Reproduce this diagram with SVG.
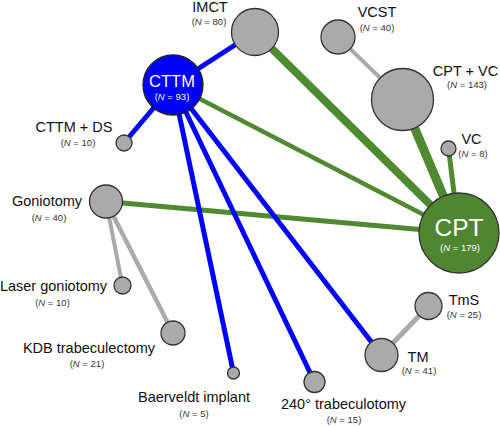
<svg xmlns="http://www.w3.org/2000/svg" width="500" height="427" viewBox="0 0 500 427">
<style>
.bg{fill:#ffffff}
.e{fill:none;stroke-linecap:butt}
.g{stroke:#4f8a30}
.b{stroke:#0000ff}
.y{stroke:#aaaaaa}
.n{fill:#aaaaaa;stroke:#333333;stroke-width:1.3}
.lab{font-family:"Liberation Sans",Arial,sans-serif;font-size:14.5px;fill:#111111;text-anchor:middle}
.sub{font-family:"Liberation Sans",Arial,sans-serif;font-size:9.5px;fill:#333333;text-anchor:middle}
</style>
<rect class="bg" x="0" y="0" width="500" height="427"/>
<g id="connectors">
<line class="e g" x1="255" y1="32" x2="459" y2="233" stroke-width="8"/>
<line class="e g" x1="402.5" y1="99.5" x2="459" y2="233" stroke-width="9"/>
<line class="e g" x1="448.5" y1="148.5" x2="459" y2="233" stroke-width="5"/>
<line class="e g" x1="173" y1="85" x2="459" y2="233" stroke-width="4.5"/>
<line class="e g" x1="106" y1="201.5" x2="459" y2="233" stroke-width="5"/>
<line class="e y" x1="338" y1="37" x2="402.5" y2="99.5" stroke-width="4"/>
<line class="e y" x1="106" y1="201.5" x2="122.5" y2="285.5" stroke-width="4"/>
<line class="e y" x1="106" y1="201.5" x2="173" y2="333" stroke-width="4.5"/>
<line class="e y" x1="381.5" y1="355" x2="428.5" y2="306" stroke-width="5"/>
<line class="e b" x1="173" y1="85" x2="255" y2="32" stroke-width="5"/>
<line class="e b" x1="173" y1="85" x2="124" y2="143" stroke-width="5"/>
<line class="e b" x1="173" y1="85" x2="233.5" y2="373" stroke-width="5"/>
<line class="e b" x1="173" y1="85" x2="314.5" y2="382" stroke-width="5"/>
<line class="e b" x1="173" y1="85" x2="381.5" y2="355" stroke-width="5"/>
</g>
<g id="node-imct">
<circle class="n" cx="255" cy="32" r="23.5"/>
<text class="lab" x="210" y="12">IMCT</text>
<text class="sub" x="209" y="25">(<tspan font-style="italic">N</tspan> = 80)</text>
</g>
<g id="node-vcst">
<circle class="n" cx="338" cy="37" r="17"/>
<text class="lab" x="377" y="17">VCST</text>
<text class="sub" x="377" y="31">(<tspan font-style="italic">N</tspan> = 40)</text>
</g>
<g id="node-cptvc">
<circle class="n" cx="402.5" cy="99.5" r="31"/>
<text class="lab" x="465.5" y="76">CPT + VC</text>
<text class="sub" x="467" y="88">(<tspan font-style="italic">N</tspan> = 143)</text>
</g>
<g id="node-vc">
<circle class="n" cx="448.5" cy="148.5" r="7.5"/>
<text class="lab" x="471.5" y="144">VC</text>
<text class="sub" x="473" y="157">(<tspan font-style="italic">N</tspan> = 8)</text>
</g>
<g id="node-cpt">
<circle cx="459" cy="233" r="40" fill="#508632" stroke="#333333" stroke-width="1.3"/>
<text class="lab" x="459" y="236" style="font-size:24.5px;fill:#ffffff">CPT</text>
<text class="sub" x="460" y="251" style="fill:#ffffff">(<tspan font-style="italic">N</tspan> = 179)</text>
</g>
<g id="node-cttm">
<circle cx="173" cy="85" r="30" fill="#0000ff" stroke="#222222" stroke-width="1.3"/>
<text class="lab" x="172" y="87" style="font-size:16.5px;fill:#ffffff">CTTM</text>
<text class="sub" x="172" y="100" style="fill:#ffffff">(<tspan font-style="italic">N</tspan> = 93)</text>
</g>
<g id="node-cttmds">
<circle class="n" cx="124" cy="143" r="8"/>
<text class="lab" x="74" y="132">CTTM + DS</text>
<text class="sub" x="78" y="146">(<tspan font-style="italic">N</tspan> = 10)</text>
</g>
<g id="node-goniotomy">
<circle class="n" cx="106" cy="201.5" r="16.5"/>
<text class="lab" x="47" y="206">Goniotomy</text>
<text class="sub" x="49" y="221">(<tspan font-style="italic">N</tspan> = 40)</text>
</g>
<g id="node-laser">
<circle class="n" cx="122.5" cy="285.5" r="8.5"/>
<text class="lab" x="53.5" y="291">Laser goniotomy</text>
<text class="sub" x="52.5" y="306">(<tspan font-style="italic">N</tspan> = 10)</text>
</g>
<g id="node-kdb">
<circle class="n" cx="173" cy="333" r="12"/>
<text class="lab" x="89" y="353">KDB trabeculectomy</text>
<text class="sub" x="87" y="367">(<tspan font-style="italic">N</tspan> = 21)</text>
</g>
<g id="node-baerveldt">
<circle class="n" cx="233.5" cy="373" r="6"/>
<text class="lab" x="194" y="402">Baerveldt implant</text>
<text class="sub" x="194" y="417">(<tspan font-style="italic">N</tspan> = 5)</text>
</g>
<g id="node-240">
<circle class="n" cx="314.5" cy="382" r="10.5"/>
<text class="lab" x="343.5" y="409">240° trabeculotomy</text>
<text class="sub" x="344" y="423">(<tspan font-style="italic">N</tspan> = 15)</text>
</g>
<g id="node-tm">
<circle class="n" cx="381.5" cy="355" r="16.5"/>
<text class="lab" x="418" y="362">TM</text>
<text class="sub" x="419" y="374">(<tspan font-style="italic">N</tspan> = 41)</text>
</g>
<g id="node-tms">
<circle class="n" cx="428.5" cy="306" r="13.5"/>
<text class="lab" x="464" y="305">TmS</text>
<text class="sub" x="464" y="318">(<tspan font-style="italic">N</tspan> = 25)</text>
</g>
</svg>
